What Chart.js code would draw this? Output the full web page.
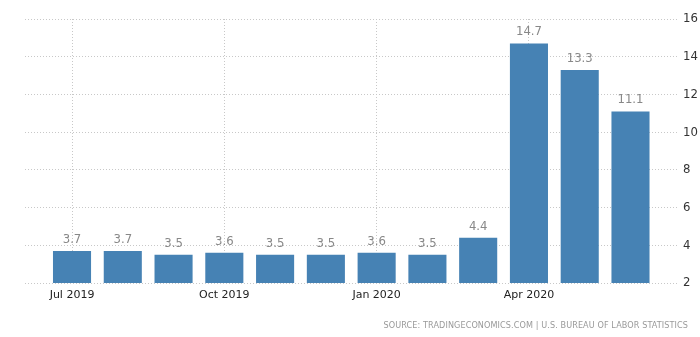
<!DOCTYPE html>
<html>
<head>
<meta charset="utf-8">
<script src="https://cdn.jsdelivr.net/npm/chart.js@4/dist/chart.umd.min.js"></script>
<style>
  html, body { margin: 0; padding: 0; background: #fff; }
  #wrap { position: relative; width: 700px; height: 337px; }
  #source {
    position: absolute; right: 12px; top: 320px;
    font-family: 'DejaVu Sans Condensed', sans-serif; font-size: 9px;
    letter-spacing: 0.1px; color: #999; white-space: nowrap;
  }
</style>
</head>
<body>
<div id="wrap">
  <canvas id="chart" width="700" height="337"></canvas>
  <div id="source">SOURCE: TRADINGECONOMICS.COM | U.S. BUREAU OF LABOR STATISTICS</div>
</div>
<script>
// Monthly unemployment rate, percent
const months = ['Jul 2019', 'Aug 2019', 'Sep 2019', 'Oct 2019', 'Nov 2019', 'Dec 2019',
                'Jan 2020', 'Feb 2020', 'Mar 2020', 'Apr 2020', 'May 2020', 'Jun 2020'];
const rates = [3.7, 3.7, 3.5, 3.6, 3.5, 3.5, 3.6, 3.5, 4.4, 14.7, 13.3, 11.1];
const labeledMonths = [0, 3, 6, 9];
const yTicks = [2, 4, 6, 8, 10, 12, 14, 16];

const gridColor = '#c8c8c8';
const narrowFont = "'Liberation Sans Narrow', 'DejaVu Sans Condensed', sans-serif";

// Value labels above each bar
const valueLabels = {
  id: 'valueLabels',
  afterDatasetsDraw(chart) {
    const ctx = chart.ctx;
    const meta = chart.getDatasetMeta(0);
    ctx.save();
    ctx.font = '13px ' + narrowFont;
    ctx.fillStyle = '#888';
    ctx.textAlign = 'center';
    ctx.textBaseline = 'bottom';
    meta.data.forEach((bar, i) => {
      ctx.fillText(rates[i].toFixed(1), bar.x, bar.y - 5);
    });
    ctx.restore();
  }
};

new Chart(document.getElementById('chart'), {
  type: 'bar',
  data: {
    datasets: [{
      data: rates.map((v, i) => ({ x: i, y: v })),
      backgroundColor: '#4682b4',
      borderWidth: 0,
      barPercentage: 0.75,
      categoryPercentage: 1.0
    }]
  },
  options: {
    responsive: false,
    animation: false,
    layout: { padding: { left: 25, top: 19, right: 0, bottom: 0 } },
    plugins: { legend: { display: false }, tooltip: { enabled: false } },
    scales: {
      x: {
        type: 'linear',
        offset: false,
        min: -0.926,
        max: 11.916,
        afterBuildTicks(scale) {
          scale.ticks = labeledMonths.map(v => ({ value: v }));
        },
        afterFit(scale) { scale.height = 54; },
        ticks: {
          callback: v => months[v],
          color: '#222',
          font: { family: "'DejaVu Sans', sans-serif", size: 11 },
          padding: 6,
          maxRotation: 0,
          autoSkip: false
        },
        grid: { color: gridColor, offset: false, drawTicks: false },
        border: { display: false, dash: [1, 2] }
      },
      y: {
        position: 'right',
        min: 2,
        max: 16,
        afterBuildTicks(scale) {
          scale.ticks = yTicks.map(v => ({ value: v }));
        },
        afterFit(scale) { scale.width = 23; },
        ticks: {
          color: '#333',
          font: { family: narrowFont, size: 13 },
          padding: 6
        },
        grid: { color: gridColor, drawTicks: false },
        border: { display: false, dash: [1, 2] }
      }
    }
  },
  plugins: [valueLabels]
});
</script>
</body>
</html>
